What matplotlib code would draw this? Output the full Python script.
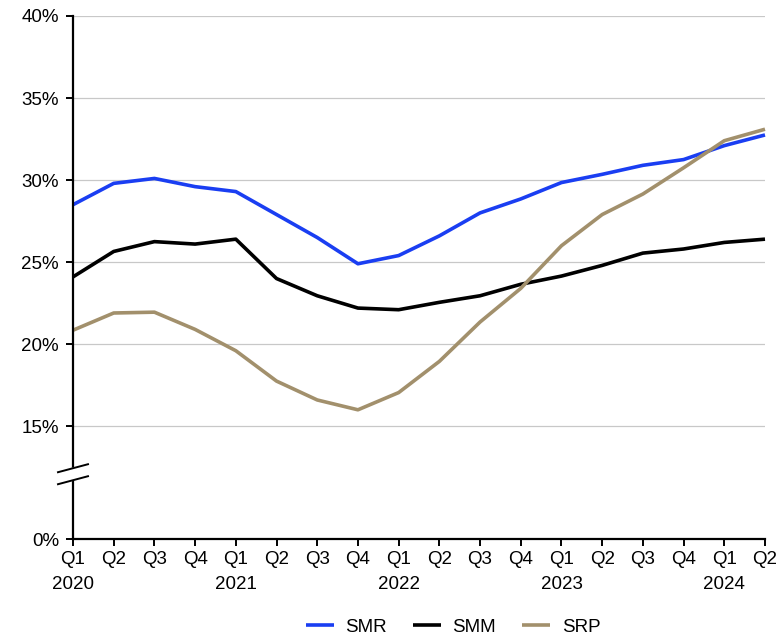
import matplotlib
matplotlib.use('Agg')
import matplotlib.pyplot as plt

# --- DATA ---
quarters = ['Q1', 'Q2', 'Q3', 'Q4'] * 4 + ['Q1', 'Q2']
years = ['2020', '', '', '', '2021', '', '', '', '2022', '', '', '', '2023', '', '', '', '2024', '']
smr = [28.5, 29.8, 30.1, 29.6, 29.3, 27.9, 26.5, 24.9, 25.4, 26.6, 28.0, 28.85,
       29.85, 30.35, 30.9, 31.25, 32.1, 32.75]
smm = [24.1, 25.65, 26.25, 26.1, 26.4, 24.0, 22.95, 22.2, 22.1, 22.55, 22.95, 23.65,
       24.15, 24.8, 25.55, 25.8, 26.2, 26.4]
srp = [20.85, 21.9, 21.95, 20.9, 19.6, 17.75, 16.6, 16.0, 17.05, 18.95, 21.35, 23.4,
       26.0, 27.9, 29.15, 30.75, 32.4, 33.1]
ytick_vals = [15, 20, 25, 30, 35, 40]

# --- STYLE ---
plt.rcParams['font.family'] = ['Liberation Sans', 'DejaVu Sans']
plt.rcParams['font.size'] = 13.5

fig = plt.figure(figsize=(7.76, 6.36), dpi=100)
ax = fig.add_axes([73 / 776, 97 / 636, 692 / 776, 523 / 636])

# the axis is broken between 0% and 15%: 0% sits at this position
zero_pos = 15 - 113 / 82.2 * 5

x = list(range(len(quarters)))
ax.plot(x, smr, color='#1a3ef2', lw=2.6, label='SMR', clip_on=False, solid_capstyle='butt')
ax.plot(x, smm, color='black', lw=2.6, label='SMM', clip_on=False, solid_capstyle='butt')
ax.plot(x, srp, color='#a2906c', lw=2.6, label='SRP', clip_on=False, solid_capstyle='butt')

ax.set_xlim(0, len(x) - 1)
ax.set_ylim(zero_pos, 40)
ax.set_yticks([zero_pos] + ytick_vals)
ax.set_yticklabels(['0%'] + [f'{v}%' for v in ytick_vals])
for v in ytick_vals:
    ax.axhline(v, color='#c8c8c8', lw=0.9, zorder=0)

ax.set_xticks(x)
ax.set_xticklabels([q + ('\n' + y if y else '') for q, y in zip(quarters, years)],
                   va='top', linespacing=1.55)

for s in ['top', 'right']:
    ax.spines[s].set_visible(False)
for s in ['left', 'bottom']:
    ax.spines[s].set_linewidth(1.6)
ax.tick_params(axis='both', direction='out', length=5, width=1.4, colors='black')
ax.tick_params(axis='y', pad=5)
ax.tick_params(axis='x', pad=4)

# axis break marks
ppx = (len(x) - 1) / 692  # data units per pixel in x
ppy = (40 - zero_pos) / 523
bx = [-15 * ppx, 15 * ppx]
y1 = [15 - 46 * ppy, 15 - 38 * ppy]
y2 = [15 - 58 * ppy, 15 - 50 * ppy]
ax.fill([bx[0], bx[1], bx[1], bx[0]], [y1[0], y1[1], y2[1], y2[0]],
        color='white', clip_on=False, zorder=5)
ax.plot(bx, y1, color='black', lw=1.4, clip_on=False, zorder=6)
ax.plot(bx, y2, color='black', lw=1.4, clip_on=False, zorder=6)

ax.legend(loc='center', bbox_to_anchor=((453 - 73) / 692, -88 / 523), ncol=3, frameon=False,
          handlelength=1.5, handletextpad=0.6, columnspacing=1.4, fontsize=13.5)

fig.savefig('out.png', dpi=100)
